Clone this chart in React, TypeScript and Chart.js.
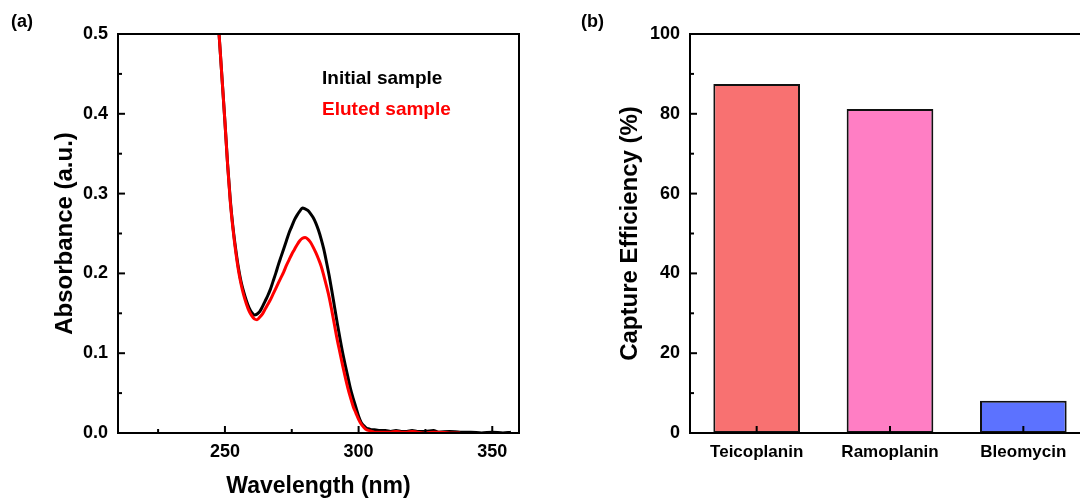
import { useEffect, useRef } from 'react';
import { Chart, registerables } from 'chart.js';

Chart.register(...registerables);

const FONT = "'Liberation Sans', Arial, Helvetica, sans-serif";
Chart.defaults.font.family = FONT;
Chart.defaults.color = '#000';

// ---- (a) UV-vis absorbance spectra ----
const wavelengths = [
  246, 247, 248, 249, 250, 251, 252, 253, 254, 255, 256, 257, 258, 259, 260,
  261, 262, 263, 264, 265, 266, 267, 268, 269, 270, 271, 272, 273, 274, 275,
  276, 277, 278, 279, 280, 281, 282, 283, 284, 285, 286, 287, 288, 289, 290,
  291, 292, 293, 294, 295, 296, 297, 298, 299, 300, 301, 302, 303, 304, 305,
  306, 308, 310, 312, 314, 316, 318, 320, 322, 325, 328, 330, 334, 338, 342,
  346, 350, 354, 357,
];

const initialSample = [
  0.59, 0.54, 0.49, 0.44, 0.39, 0.337, 0.292, 0.258, 0.231, 0.208, 0.19, 0.177, 0.166, 0.157, 0.151,
  0.148, 0.149, 0.152, 0.158, 0.165, 0.172, 0.18, 0.19, 0.2, 0.211, 0.221, 0.231, 0.241, 0.251, 0.259,
  0.267, 0.273, 0.278, 0.282, 0.281, 0.279, 0.275, 0.27, 0.263, 0.254, 0.243, 0.23, 0.214, 0.197, 0.178,
  0.158, 0.138, 0.119, 0.101, 0.085, 0.07, 0.055, 0.043, 0.032, 0.021, 0.013, 0.009, 0.006, 0.005, 0.004,
  0.004, 0.003, 0.003, 0.002, 0.003, 0.002, 0.002, 0.003, 0.002, 0.002, 0.003, 0.001, 0.002, 0.001, 0.001,
  0.0, 0.001, 0.0, 0.001,
];

const elutedSample = [
  0.59, 0.54, 0.49, 0.44, 0.39, 0.336, 0.29, 0.256, 0.228, 0.205, 0.187, 0.173, 0.162, 0.153, 0.147,
  0.143, 0.142, 0.145, 0.149, 0.155, 0.161, 0.167, 0.174, 0.181, 0.188, 0.195, 0.202, 0.21, 0.217, 0.224,
  0.23, 0.236, 0.241, 0.244, 0.245, 0.243, 0.239, 0.233, 0.226, 0.218, 0.209, 0.197, 0.184, 0.17, 0.153,
  0.135, 0.117, 0.101, 0.085, 0.07, 0.056, 0.044, 0.033, 0.025, 0.017, 0.011, 0.007, 0.004, 0.003, 0.002,
  0.001, 0.001, 0.001, 0.001, 0.002, 0.001, 0.001, 0.002, 0.001, 0.0, 0.001, 0.001, 0.0, 0.0,
];

const wavelengthTicks = [250, 300, 350];
const seriesLabels = ['Initial sample', 'Eluted sample'];
const seriesColors = ['#000000', '#ff0000'];

// ---- (b) capture efficiency ----
const antibiotics = ['Teicoplanin', 'Ramoplanin', 'Bleomycin'];
const captureEfficiency = [87.5, 81.2, 8.1];
const barColors = ['#f87171', '#ff7ec4', '#5c72ff'];

// Frame around the plot area plus inward major / minor tick marks.
const axisFrame = {
  id: 'axisFrame',
  afterDatasetsDraw(chart: any, _args: any, opts: any) {
    const { ctx, chartArea: a } = chart;
    ctx.save();
    ctx.strokeStyle = '#000';
    ctx.lineWidth = 2;
    ctx.lineCap = 'butt';
    const major = opts.major ?? 7;
    const minor = opts.minor ?? 4;
    const drawTick = (scale: any, px: number, len: number) => {
      ctx.beginPath();
      if (scale.isHorizontal()) {
        ctx.moveTo(px, a.bottom);
        ctx.lineTo(px, a.bottom - len);
      } else {
        ctx.moveTo(a.left, px);
        ctx.lineTo(a.left + len, px);
      }
      ctx.stroke();
    };
    ['x', 'y'].forEach((id) => {
      const scale = chart.scales[id];
      if (!scale) return;
      const ticks = scale.ticks;
      ticks.forEach((_t: any, i: number) => drawTick(scale, scale.getPixelForTick(i), major));
      if (opts.minorAxes && opts.minorAxes.includes(id) && ticks.length > 1) {
        const step = ticks[1].value - ticks[0].value;
        const values: number[] = [];
        for (let i = 0; i < ticks.length; i++) values.push(ticks[i].value - step / 2);
        values.push(ticks[ticks.length - 1].value + step / 2);
        values
          .filter((v) => v > scale.min && v < scale.max)
          .forEach((v) => drawTick(scale, scale.getPixelForValue(v), minor));
      }
    });
    ctx.strokeRect(a.left, a.top, a.right - a.left, a.bottom - a.top);
    ctx.restore();
  },
};

// Text-only legend placed inside the plot area.
const textLegend = {
  id: 'textLegend',
  afterDraw(chart: any, _args: any, opts: any) {
    if (!opts || !opts.display) return;
    const { ctx, chartArea: a } = chart;
    ctx.save();
    ctx.font = `bold ${opts.size}px ${FONT}`;
    ctx.textBaseline = 'middle';
    ctx.textAlign = 'left';
    chart.data.datasets.forEach((ds: any, i: number) => {
      ctx.fillStyle = ds.borderColor;
      ctx.fillText(ds.label, a.left + opts.dx, a.top + opts.dy + i * opts.gap);
    });
    ctx.restore();
  },
};

function SpectrumChart() {
  const ref = useRef<HTMLCanvasElement>(null);
  useEffect(() => {
    if (!ref.current) return;
    const toPoints = (ys: number[]) => ys.map((y, i) => ({ x: wavelengths[i], y }));
    const chart = new Chart(ref.current, {
      type: 'line',
      data: {
        datasets: [
          {
            label: seriesLabels[0],
            data: toPoints(initialSample),
            borderColor: seriesColors[0],
            borderWidth: 3,
            pointRadius: 0,
            cubicInterpolationMode: 'monotone',
            order: 1,
          },
          {
            label: seriesLabels[1],
            data: toPoints(elutedSample),
            borderColor: seriesColors[1],
            borderWidth: 3,
            pointRadius: 0,
            cubicInterpolationMode: 'monotone',
            order: 0,
          },
        ],
      },
      options: {
        responsive: false,
        animation: false,
        events: [],
        layout: { padding: { top: 34, right: 21, left: 0, bottom: 0 } },
        scales: {
          x: {
            type: 'linear',
            min: 210,
            max: 360,
            grid: { display: false, drawTicks: false },
            border: { display: false },
            afterBuildTicks: (s: any) => {
              s.ticks = wavelengthTicks.map((value) => ({ value }));
            },
            ticks: {
              padding: 8,
              font: { size: 18, weight: 'bold' },
              color: '#000',
              callback: (v: any) => String(v),
            },
            title: {
              display: true,
              text: 'Wavelength (nm)',
              font: { size: 23, weight: 'bold' },
              color: '#000',
              padding: { top: 0, bottom: 1 },
            },
            afterFit: (s: any) => {
              s.height = 68;
            },
          },
          y: {
            type: 'linear',
            min: 0,
            max: 0.5,
            grid: { display: false, drawTicks: false },
            border: { display: false },
            ticks: {
              stepSize: 0.1,
              padding: 10,
              font: { size: 18, weight: 'bold' },
              color: '#000',
              callback: (v: any) => Number(v).toFixed(1),
            },
            title: {
              display: true,
              text: 'Absorbance (a.u.)',
              font: { size: 24, weight: 'bold' },
              color: '#000',
              padding: { top: 51, bottom: 0 },
            },
            afterFit: (s: any) => {
              s.width = 118;
            },
          },
        },
        plugins: {
          legend: { display: false },
          tooltip: { enabled: false },
          axisFrame: { major: 7, minor: 4, minorAxes: ['x', 'y'] },
          textLegend: { display: true, size: 19, dx: 204, dy: 45, gap: 31 },
        } as any,
      },
      plugins: [axisFrame, textLegend],
    } as any);
    return () => chart.destroy();
  }, []);
  return <canvas ref={ref} width={540} height={501} style={{ display: 'block' }} />;
}

function CaptureChart() {
  const ref = useRef<HTMLCanvasElement>(null);
  useEffect(() => {
    if (!ref.current) return;
    const chart = new Chart(ref.current, {
      type: 'bar',
      data: {
        labels: antibiotics,
        datasets: [
          {
            data: captureEfficiency,
            backgroundColor: barColors,
            borderColor: '#111',
            borderWidth: 2,
            borderSkipped: false,
            barPercentage: 0.65,
            categoryPercentage: 1,
          },
        ],
      },
      options: {
        responsive: false,
        animation: false,
        events: [],
        layout: { padding: { top: 34, right: 20, left: 0, bottom: 0 } },
        scales: {
          x: {
            type: 'category',
            grid: { display: false, drawTicks: false },
            border: { display: false },
            ticks: {
              padding: 9,
              font: { size: 17, weight: 'bold' },
              color: '#000',
            },
            afterFit: (s: any) => {
              s.height = 68;
            },
          },
          y: {
            type: 'linear',
            min: 0,
            max: 100,
            grid: { display: false, drawTicks: false },
            border: { display: false },
            ticks: {
              stepSize: 20,
              padding: 10,
              font: { size: 18, weight: 'bold' },
              color: '#000',
            },
            title: {
              display: true,
              text: 'Capture Efficiency (%)',
              font: { size: 24, weight: 'bold' },
              color: '#000',
              padding: { top: 76, bottom: 0 },
            },
            afterFit: (s: any) => {
              s.width = 150;
            },
          },
        },
        plugins: {
          legend: { display: false },
          tooltip: { enabled: false },
          axisFrame: { major: 7, minor: 4, minorAxes: ['y'] },
        } as any,
      },
      plugins: [axisFrame],
    } as any);
    return () => chart.destroy();
  }, []);
  return <canvas ref={ref} width={570} height={501} style={{ display: 'block' }} />;
}

const panelLabel = (left: number): React.CSSProperties => ({
  position: 'absolute',
  left,
  top: 11,
  font: `bold 18px ${FONT}`,
  lineHeight: '20px',
  color: '#000',
});

export default function App() {
  return (
    <div
      style={{
        position: 'absolute',
        left: 0,
        top: 0,
        width: 1080,
        height: 501,
        overflow: 'hidden',
        background: '#fff',
      }}
    >
      <div style={{ position: 'absolute', left: 0, top: 0 }}>
        <SpectrumChart />
      </div>
      <div style={{ position: 'absolute', left: 540, top: 0, width: 540, height: 501, overflow: 'hidden' }}>
        <CaptureChart />
      </div>
      <div style={panelLabel(11)}>(a)</div>
      <div style={panelLabel(581)}>(b)</div>
    </div>
  );
}
